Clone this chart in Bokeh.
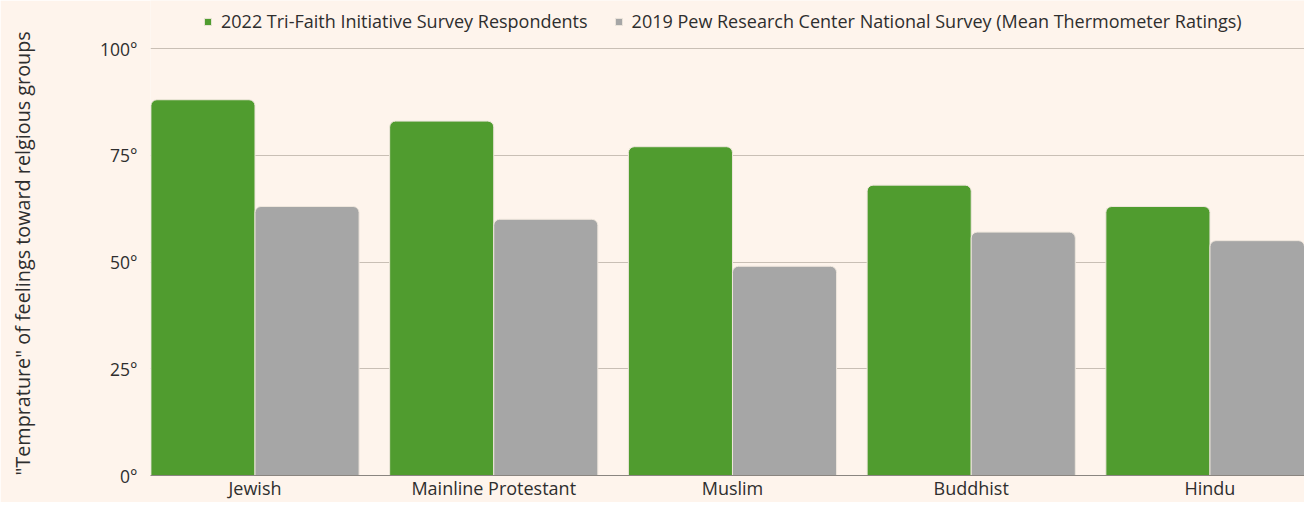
from bokeh.plotting import figure
from bokeh.models import (ColumnDataSource, Range1d, FixedTicker, PrintfTickFormatter,
                          Legend, LegendItem)
from bokeh.transform import dodge
from bokeh.embed import file_html
from bokeh.resources import INLINE

categories = ["Jewish", "Mainline Protestant", "Muslim", "Buddhist", "Hindu"]
tri_faith = [88, 83, 77, 68, 63]
pew = [63, 60, 49, 57, 55]
series_labels = ["2022 Tri-Faith Initiative Survey Respondents",
                 "2019 Pew Research Center National Survey (Mean Thermometer Ratings)"]
y_ticks = [0, 25, 50, 75, 100]
y_title = '"Temprature" of feelings toward relgious groups'

BG = "#fef4ec"
GREEN = "#509c2f"
GRAY = "#a6a6a6"
FONT = "Open Sans"
TXT = "#2e2e2e"

FRAME_BOTTOM = 475   # expected pixel row of the baseline
TOP_100 = 48         # pixel row of the 100 gridline
y_end = 100 * FRAME_BOTTOM / (FRAME_BOTTOM - TOP_100)

idx = list(range(len(categories)))
src = ColumnDataSource(dict(x=idx, tri=tri_faith, pew=pew))

p = figure(width=1304, height=502, output_backend="svg", toolbar_location=None,
           x_range=Range1d(-0.4377, 4.396), y_range=Range1d(0, y_end),
           min_border_left=150, min_border_right=0, min_border_top=0, min_border_bottom=16)
p.background_fill_color = BG
p.border_fill_color = BG
p.outline_line_color = None

r1 = p.vbar(x=dodge("x", -0.218, range=p.x_range), top="tri", width=0.436, source=src,
            fill_color=GREEN, line_color="#eee6dc", line_width=1, border_radius=(6, 6, 0, 0))
r2 = p.vbar(x=dodge("x", 0.218, range=p.x_range), top="pew", width=0.436, source=src,
            fill_color=GRAY, line_color="#eee6dc", line_width=1, border_radius=(6, 6, 0, 0))

# axes
xa = p.xaxis[0]
xa.ticker = FixedTicker(ticks=idx)
xa.major_label_overrides = {i: c for i, c in zip(idx, categories)}
xa.major_tick_line_color = None
xa.major_tick_out = 0
xa.major_tick_in = 0
xa.minor_tick_line_color = None
xa.minor_tick_out = 0
xa.axis_line_color = "#8a8580"
xa.axis_line_width = 1
xa.major_label_standoff = 0
xa.major_label_text_line_height = 1.0
xa.major_label_text_font = FONT
xa.major_label_text_font_size = "18px"
xa.major_label_text_color = TXT

ya = p.yaxis[0]
ya.ticker = FixedTicker(ticks=y_ticks)
ya.formatter = PrintfTickFormatter(format="%d°")
ya.axis_line_color = None
ya.major_tick_line_color = None
ya.major_tick_out = 0
ya.major_tick_in = 0
ya.minor_tick_line_color = None
ya.minor_tick_out = 0
ya.major_label_standoff = 13
ya.major_label_text_font = FONT
ya.major_label_text_font_size = "17.5px"
ya.major_label_text_color = TXT
# trailing no-break spaces shift the centred label down beside the 0-100 scale
ya.axis_label = y_title + "\u00a0" * 6
ya.axis_label_text_font = FONT
ya.axis_label_text_font_size = "19.8px"
ya.axis_label_text_font_style = "normal"
ya.axis_label_text_color = TXT
ya.axis_label_standoff = 61

p.xgrid.grid_line_color = None
p.ygrid.grid_line_color = "#c9bfb5"
p.ygrid.grid_line_width = 1

lg = Legend(items=[LegendItem(label=series_labels[0], renderers=[r1]),
                   LegendItem(label=series_labels[1], renderers=[r2])],
            location=(53, FRAME_BOTTOM - 33), orientation="horizontal", spacing=26,
            background_fill_alpha=0, border_line_color=None,
            padding=0, margin=0, glyph_width=9, glyph_height=9, label_standoff=9,
            label_text_font=FONT, label_text_font_size="18px", label_text_color=TXT)
p.add_layout(lg, "center")

open("out.html", "w").write(file_html(p, INLINE))
